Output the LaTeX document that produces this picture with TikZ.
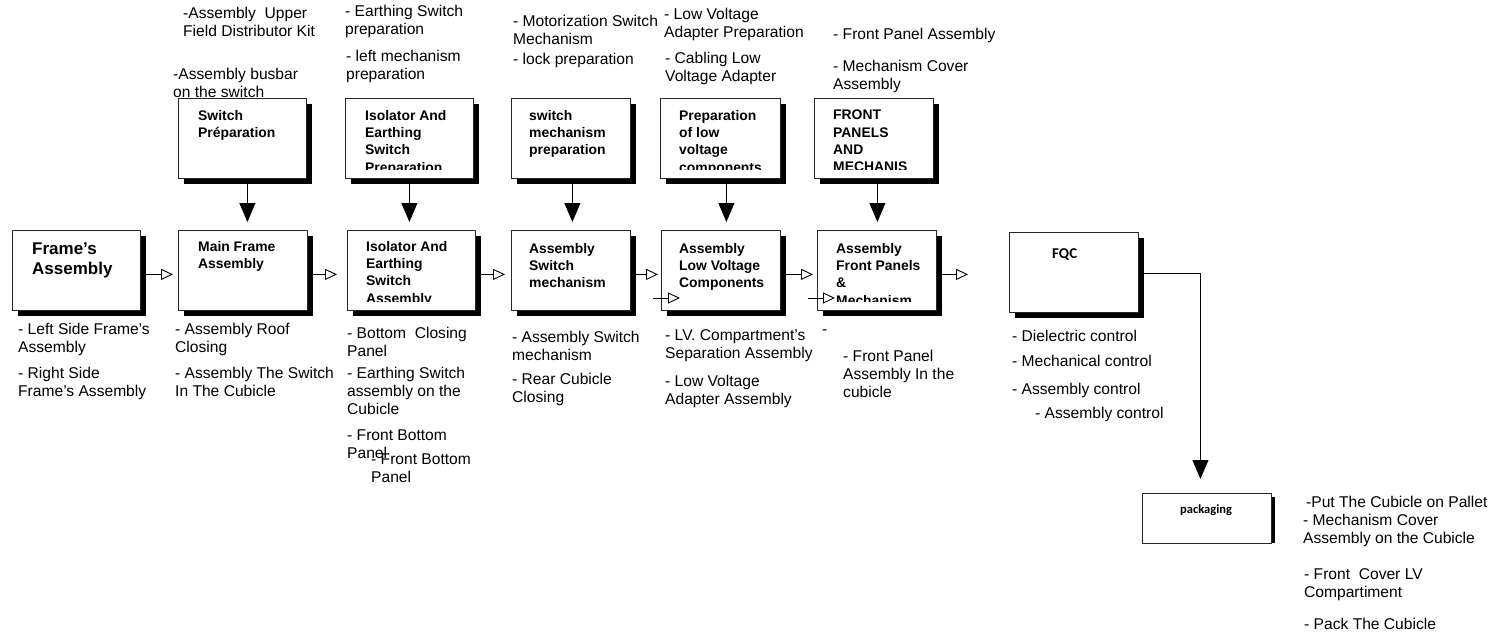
\documentclass[tikz,border=0pt]{standalone}
\usepackage{fontspec}
\setmainfont{Liberation Sans}
\newfontfamily\calib{Carlito}
\usetikzlibrary{arrows.meta,shadows}

\begin{document}
\begin{tikzpicture}[x=1pt,y=-1pt,
  box/.style={draw=black!85, line width=0.8pt, fill=white, rectangle,
    inner sep=0pt, anchor=north west,
    general shadow={fill=black, shadow xshift=6pt, shadow yshift=-6pt}},
  plainbox/.style={draw=black!85, line width=0.8pt, fill=white, rectangle,
    inner sep=0pt, anchor=north west},
  note/.style={anchor=north west, inner sep=0pt, align=left,
    font=\fontsize{15.6}{18}\selectfont},
  lab/.style={anchor=north west, inner sep=0pt, align=left,
    font=\fontsize{13.9}{17.3}\selectfont\bfseries},
  biglab/.style={anchor=north west, inner sep=0pt, align=left,
    font=\fontsize{17}{19.5}\selectfont\bfseries},
  callab/.style={anchor=north west, inner sep=0pt, align=left,
    font=\calib\bfseries},
  feed/.style={-{Triangle[length=19pt,width=16pt]}, line width=0.9pt},
  flow/.style={-{Triangle[open,length=12pt,width=11pt,fill=white]}, line width=0.9pt},
]
\path[use as bounding box] (0,0) rectangle (1498,642);

% ---------- preparation boxes (upper row) ----------
\node[box, minimum width=128pt, minimum height=80pt] (tp1) at (178,98) {};
\node[box, minimum width=128pt, minimum height=80pt] (tp2) at (345,98) {};
\node[box, minimum width=119pt, minimum height=80pt] (tp3) at (511,98) {};
\node[box, minimum width=120pt, minimum height=80pt] (tp4) at (660,98) {};
\node[box, minimum width=119pt, minimum height=80pt] (tp5) at (814,98) {};

% ---------- assembly boxes (main line) ----------
\node[box, minimum width=128pt, minimum height=80pt] (m0) at (12,230) {};
\node[box, minimum width=129pt, minimum height=80pt] (m1) at (178,230) {};
\node[box, minimum width=128pt, minimum height=80pt] (m2) at (347,230) {};
\node[box, minimum width=119pt, minimum height=80pt] (m3) at (511,230) {};
\node[box, minimum width=119pt, minimum height=80pt] (m4) at (661,230) {};
\node[box, minimum width=119pt, minimum height=80pt] (m5) at (817,230) {};
\node[box, minimum width=129pt, minimum height=80pt] (fqc) at (1009,232) {};

% packaging box with its side bar
\fill[black] (1271,497) rectangle (1275,543);
\node[plainbox, minimum width=129pt, minimum height=50pt] (pack) at (1142,493) {};

% ---------- box titles ----------
\node[lab] (tp1t) at (198,110) {Switch\\Préparation};
\begin{scope}
  \clip (tp2.north west) rectangle ([yshift=9pt]tp2.south east);
  \node[lab] (tp2t) at (365,110) {Isolator And\\Earthing\\Switch\\Preparation};
\end{scope}
\node[lab] (tp3t) at (529,110) {switch\\mechanism\\preparation};
\begin{scope}
  \clip (tp4.north west) rectangle ([yshift=9pt]tp4.south east);
  \node[lab] (tp4t) at (679,110) {Preparation\\of low\\voltage\\components};
\end{scope}
\begin{scope}
  \clip (tp5.north west) rectangle ([yshift=9pt]tp5.south east);
  \node[lab] (tp5t) at (833,110) {FRONT\\PANELS\\AND\\MECHANIS};
\end{scope}

\node[biglab] (m0t) at (32,243) {Frame’s\\Assembly};
\node[lab] (m1t) at (198,241) {Main Frame\\Assembly};
\begin{scope}
  \clip (m2.north west) rectangle ([yshift=9pt]m2.south east);
  \node[lab] (m2t) at (366,241) {Isolator And\\Earthing\\Switch\\Assembly};
\end{scope}
\node[lab] (m3t) at (529,243) {Assembly\\Switch\\mechanism};
\node[lab] (m4t) at (679,243) {Assembly\\Low Voltage\\Components};
\begin{scope}
  \clip (m5.north west) rectangle ([yshift=9pt]m5.south east);
  \node[lab] (m5t) at (836,243) {Assembly\\Front Panels\\\&\\Mechanism};
\end{scope}
\node[callab, font=\calib\bfseries\fontsize{15}{18}\selectfont] (fqct) at (1052,248) {FQC};
\node[callab, font=\calib\bfseries\fontsize{12.5}{14}\selectfont] (packt) at (1180,505) {packaging};

% ---------- operations above the preparation boxes ----------
\node[note] (n1) at (183,7) {-Assembly\ \ Upper\\Field Distributor Kit};
\node[note] (n2) at (173,68) {-Assembly busbar\\on the switch};
\node[note] (n3) at (345,5) {- Earthing Switch\\preparation};
\node[note] (n4) at (346,50) {- left mechanism\\preparation};
\node[note] (n5) at (513,15) {- Motorization Switch\\Mechanism};
\node[note] (n6) at (513,53) {- lock preparation};
\node[note] (n7) at (664,8) {- Low Voltage\\Adapter Preparation};
\node[note] (n8) at (665,52) {- Cabling Low\\Voltage Adapter};
\node[note] (n9) at (833,28) {- Front Panel Assembly};
\node[note] (n10) at (833,60) {- Mechanism Cover\\Assembly};

% ---------- operations below the assembly boxes ----------
\node[note] (b1) at (18,323) {- Left Side Frame’s\\Assembly};
\node[note] (b2) at (18,367) {- Right Side\\Frame’s Assembly};
\node[note] (b3) at (175,323) {- Assembly Roof\\Closing};
\node[note] (b4) at (175,367) {- Assembly The Switch\\In The Cubicle};
\node[note] (b5) at (347,327) {- Bottom\ \ Closing\\Panel};
\node[note] (b6) at (347,367) {- Earthing Switch\\assembly on the\\Cubicle};
\node[note] (b7) at (347,430) {- Front Bottom\\Panel};
\node[note] (b8) at (371,454) {- Front Bottom\\Panel};
\node[note] (b9) at (512,331) {- Assembly Switch\\mechanism};
\node[note] (b10) at (512,373) {- Rear Cubicle\\Closing};
\node[note] (b11) at (665,329) {- LV. Compartment’s\\Separation Assembly};
\node[note] (b12) at (665,375) {- Low Voltage\\Adapter Assembly};
\node[note] (b13) at (822,330) {-};
\node[note] (b14) at (843,350) {- Front Panel\\Assembly In the\\cubicle};
\node[note] (b15) at (1012,330) {- Dielectric control};
\node[note] (b16) at (1012,355) {- Mechanical control};
\node[note] (b17) at (1012,383) {- Assembly control};
\node[note] (b18) at (1035,407) {- Assembly control};
\node[note] (p1) at (1306,496) {-Put The Cubicle on Pallet};
\node[note] (p2) at (1303,514) {- Mechanism Cover\\Assembly on the Cubicle};
\node[note] (p3) at (1304,568) {- Front\ \ Cover LV\\Compartiment};
\node[note] (p4) at (1304,618) {- Pack The Cubicle};

% ---------- feeds from preparation into assembly ----------
\draw[feed, shorten >=8pt] ([xshift=5pt]tp1.south) -- ([xshift=5pt]tp1.south |- m1.north);
\draw[feed, shorten >=8pt] (tp2.south) -- (tp2.south |- m2.north);
\draw[feed, shorten >=8pt] ([xshift=1.5pt]tp3.south) -- ([xshift=1.5pt]tp3.south |- m3.north);
\draw[feed, shorten >=8pt] ([xshift=6pt]tp4.south) -- ([xshift=6pt]tp4.south |- m4.north);
\draw[feed, shorten >=8pt] ([xshift=3.5pt]tp5.south) -- ([xshift=3.5pt]tp5.south |- m5.north);

% ---------- main flow ----------
\draw[flow, shorten >=5pt] ([yshift=-4pt]m0.east) -- ([yshift=-4pt]m1.west);
\draw[flow, shorten >=10pt] ([yshift=-4pt]m1.east) -- ([yshift=-4pt]m2.west);
\draw[flow, shorten >=6pt] ([yshift=-4pt]m2.east) -- ([yshift=-4pt]m3.west);
\draw[flow, shorten >=3pt] ([yshift=-4pt]m3.east) -- ([yshift=-4pt]m4.west);
\draw[flow, shorten >=4pt] ([yshift=-4pt]m4.east) -- ([yshift=-4pt]m5.west);
\draw[flow, shorten >=41pt] ([yshift=-4pt]m5.east) -- ([yshift=-4pt]m5.east -| fqc.west);

% short extra arrows at the lower left of two boxes
\coordinate (x1a) at (653,298);
\coordinate (x1b) at (680,298);
\coordinate (x2a) at (808,298);
\coordinate (x2b) at (835,298);
\draw[flow] (x1a) -- (x1b);
\draw[flow] (x2a) -- (x2b);

% ---------- to packaging ----------
\draw[feed] ([yshift=-1pt]fqc.east) -| ([xshift=-6.5pt,yshift=14pt]pack.north);
\end{tikzpicture}
\end{document}
